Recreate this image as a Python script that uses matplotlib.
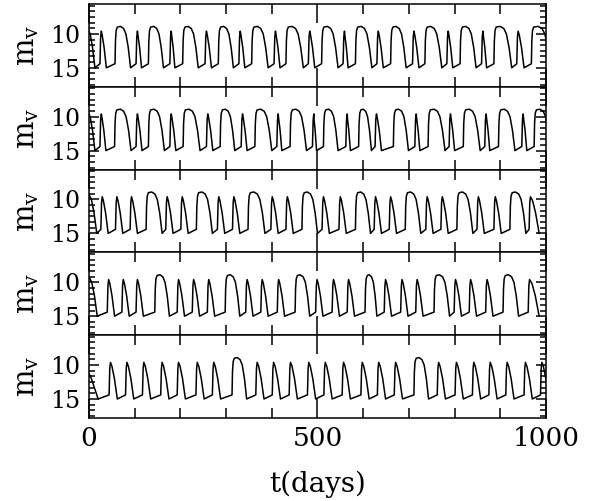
import numpy as np
import matplotlib.pyplot as plt
from matplotlib.ticker import FixedLocator, MultipleLocator

plt.rcParams['font.family'] = 'DejaVu Serif'
plt.rcParams['mathtext.fontset'] = 'dejavuserif'

# outburst onsets / ends (days) and type (L = long, S = short)
p1_start = [-22, 24, 57, 103, 130, 177, 205, 254, 283, 328, 356, 405, 431, 480, 509,
            556, 583, 630, 660, 708, 735, 783, 812, 859, 886, 936, 968]
p1_end = [13, 38, 91, 115, 163, 188, 239, 268, 316, 341, 392, 418, 469, 494, 545,
          567, 619, 644, 694, 722, 772, 796, 847, 870, 925, 952, 1010]
p1_kind = 'LSLSLSLSLSLSLSLSLSLSLSLSLSL'

p2_start = [-22, 24, 56, 103, 130, 177, 206, 257, 287, 333, 363, 411, 440, 489, 513,
            562, 590, 626, 666, 713, 742, 788, 819, 866, 896, 947, 974]
p2_end = [13, 37, 92, 116, 165, 190, 243, 271, 319, 346, 400, 422, 476, 498, 545,
          572, 618, 640, 699, 724, 779, 800, 856, 877, 932, 958, 1010]
p2_kind = 'LSLSLSLSLSLSLSLSLSLSLSLSLSL'

p3_start = [-22, 26, 58, 90, 125, 168, 201, 235, 281, 314, 348, 398, 431, 466, 510,
            547, 583, 624, 657, 692, 737, 770, 805, 849, 886, 921, 963]
p3_end = [17, 42, 74, 106, 160, 184, 217, 270, 297, 330, 385, 414, 447, 500, 526,
          563, 616, 640, 673, 726, 753, 786, 840, 865, 902, 956, 985]
p3_kind = 'LSSSLSSLSSLSSLSSLSSLSSLSSLS'

p4_start = [-22, 40, 72, 103, 144, 193, 226, 259, 298, 343, 376, 412, 451, 496, 532,
            565, 604, 646, 682, 715, 755, 799, 832, 868, 906, 961]
p4_end = [18, 56, 88, 119, 176, 209, 242, 275, 330, 359, 392, 428, 483, 512, 548,
          581, 630, 662, 698, 731, 789, 815, 848, 884, 940, 985]
p4_kind = 'LSSSLSSSLSSSLSSSLSSSLSSSLS'

p5_start = [-22, 44, 80, 117, 157, 193, 234, 270, 313, 365, 401, 438, 478, 514, 554,
            595, 631, 668, 711, 762, 801, 839, 875, 912, 952, 988]
p5_end = [20, 62, 98, 135, 175, 211, 252, 288, 345, 383, 419, 456, 496, 532, 572,
          613, 649, 686, 743, 780, 819, 857, 893, 930, 970, 1006]
p5_kind = 'SSSSSSSSLSSSSSSSSSLSSSSSSS'

panels = [(p1_start, p1_end, p1_kind), (p2_start, p2_end, p2_kind),
          (p3_start, p3_end, p3_kind), (p4_start, p4_end, p4_kind),
          (p5_start, p5_end, p5_kind)]


def light_curve(starts, ends, kinds):
    """Polyline through the rise, maximum and decline of each outburst."""
    t, m = [], []
    for s, e, k in zip(starts, ends, kinds):
        d = e - s
        if k == 'L':
            t += [s, s + 1, s + 2.5, s + 5, s + 0.35 * d, s + 0.55 * d, s + 0.7 * d,
                  s + 0.85 * d, e]
            m += [14.4, 11.0, 9.5, 9.0, 8.9, 9.2, 10.0, 12.0, 15.0]
        else:
            t += [s, s + 1.5, s + 3, s + 0.35 * d, s + 0.65 * d, e]
            m += [14.4, 10.5, 9.6, 10.2, 12.0, 15.0]
    return np.array(t), np.array(m)


fig, axes = plt.subplots(5, 1, sharex=True, figsize=(5.92, 5.01), dpi=100)
fig.subplots_adjust(left=0.1503, right=0.9223, top=0.992, bottom=0.1657, hspace=0)

for ax, (st, en, kd) in zip(axes, panels):
    t, m = light_curve(st, en, kd)
    ax.plot(t, m, color='black', lw=1.1)
    ax.set_xlim(0, 1000)
    ax.set_ylim(17.8, 5.6)
    ax.yaxis.set_major_locator(FixedLocator([10, 15]))
    ax.yaxis.set_minor_locator(FixedLocator(np.arange(10 - 5 * 5 / 6, 18, 5 / 6)))
    ax.xaxis.set_major_locator(MultipleLocator(500))
    ax.xaxis.set_minor_locator(MultipleLocator(100))
    ax.tick_params(axis='both', which='both', direction='in', top=True, right=True, width=1.1)
    ax.tick_params(axis='x', which='major', length=14, labelsize=19, pad=6)
    ax.tick_params(axis='x', which='minor', length=7)
    ax.tick_params(axis='y', which='major', length=7.5, labelsize=17, pad=6)
    ax.tick_params(axis='y', which='minor', length=4.5)
    for sp in ax.spines.values():
        sp.set_linewidth(1.1)
    ax.set_ylabel(r'$\mathrm{m_v}$', fontsize=21)
    ax.yaxis.set_label_coords(-0.105, 0.5)

axes[-1].set_xticks([0, 500, 1000])
axes[-1].set_xlabel('t(days)', fontsize=20, labelpad=14)

fig.savefig('out.png', dpi=100)
